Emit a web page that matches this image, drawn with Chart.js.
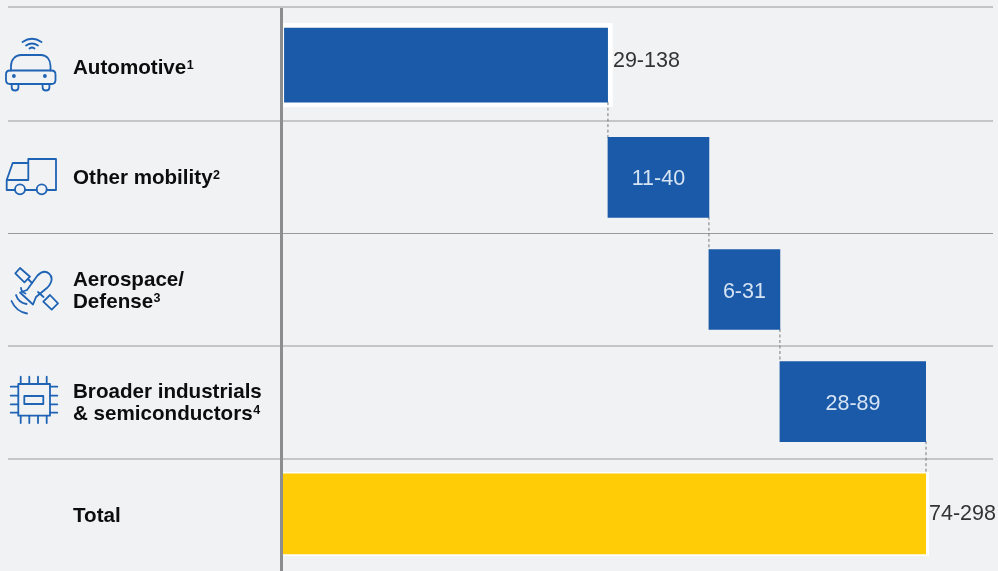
<!DOCTYPE html>
<html>
<head>
<meta charset="utf-8">
<style>html,body{margin:0;padding:0;background:#f1f2f4;overflow:hidden}canvas{display:block}</style>
<script src="https://cdn.jsdelivr.net/npm/chart.js@4"></script>
</head>
<body>
<canvas id="c" width="998" height="571"></canvas>
<script>
const categories = ['Automotive', 'Other mobility', 'Aerospace/ Defense', 'Broader industrials & semiconductors', 'Total'];
const categoryLines = [['Automotive'], ['Other mobility'], ['Aerospace/', 'Defense'], ['Broader industrials', '& semiconductors'], ['Total']];
const footnotes = ['1', '2', '3', '4', ''];
const rangeLabels = ['29-138', '11-40', '6-31', '28-89', '74-298'];
const barStarts = [0.5, 150.6, 197.4, 230.3, 0];
const barEnds = [150.6, 197.4, 230.3, 298, 298];
const colors = ['#1a5aa8', '#1a5aa8', '#1a5aa8', '#1a5aa8', '#ffcc05'];

const separators = [7, 121, 233.5, 346, 459];
const ICON = '#1f63b5';

function strokeP(ctx, d) { ctx.stroke(new Path2D(d)); }
function drawIcons(ctx) {
  ctx.save();
  ctx.strokeStyle = ICON; ctx.fillStyle = ICON; ctx.lineWidth = 1.8; ctx.lineCap = 'round'; ctx.lineJoin = 'round';
  // car
  strokeP(ctx, 'M22.5 42Q32 35.5 41.5 42M26 45.5Q32 41.5 38 45.5M29.5 48.5Q32 46.5 34.5 48.5');
  strokeP(ctx, 'M11 70.5V66C11 60 15 55 21 55H41C47 55 50.5 60 50.5 66V70.5');
  strokeP(ctx, 'M10 70.5H51.5Q55.5 70.5 55.5 74.5V80Q55.5 84 51.5 84H10Q6 84 6 80V74.5Q6 70.5 10 70.5Z');
  strokeP(ctx, 'M11.7 84V87.5Q11.7 90.5 15 90.5Q18.4 90.5 18.4 87.5V84M42.6 84V87.5Q42.6 90.5 46 90.5Q49.4 90.5 49.4 87.5V84');
  ctx.fill(new Path2D('M15.8 76a1.9 1.9 0 1 1-3.8 0a1.9 1.9 0 1 1 3.8 0ZM46.8 76a1.9 1.9 0 1 1-3.8 0a1.9 1.9 0 1 1 3.8 0Z'));
  // truck
  strokeP(ctx, 'M28.3 180V159H56V190H46.7M36.7 190H25M15 190H6.7V180L12.7 163H28.3M6.7 180H28.3');
  strokeP(ctx, 'M25 189.3a5 5 0 1 1-10 0a5 5 0 1 1 10 0ZM46.7 189.3a5 5 0 1 1-10 0a5 5 0 1 1 10 0Z');
  // satellite
  strokeP(ctx, 'M20 268L30 276.7L24.4 282.3L15.3 273.3ZM50 295L58 303.3L51.7 309.7L43.3 301.7Z');
  strokeP(ctx, 'M28 279L32 283M38 292L43.5 297');
  strokeP(ctx, 'M27 290L20 292.5L33 304.5L36 297L47.5 287.5C53.5 281 52 276 49 273.5C45.5 270.5 41 272 37.5 275.5L27 290');
  strokeP(ctx, 'M25.5 293.5A6.5 6.5 0 0 1 21 288M26.5 304A13 13 0 0 1 16 295M27 313.5A21 21 0 0 1 11.5 301');
  // chip
  strokeP(ctx, 'M18.3 384H50V415.7H18.3ZM24.3 396H43.3V404H24.3Z');
  strokeP(ctx, 'M20.7 376.7V384M29.3 376.7V384M38 376.7V384M46.7 376.7V384M20.7 415.7V423M29.3 415.7V423M38 415.7V423M46.7 415.7V423');
  strokeP(ctx, 'M10.7 386.7H18.3M10.7 395.7H18.3M10.7 404.3H18.3M10.7 412.7H18.3M50 386.7H57.3M50 395.7H57.3M50 404.3H57.3M50 412.7H57.3');
  ctx.restore();
}

const framePlugin = {
  id: 'frame',
  beforeDatasetsDraw(chart) {
    const ctx = chart.ctx;
    const bars = chart.getDatasetMeta(0).data;
    ctx.save();
    // row separators
    separators.forEach((y, i) => {
      ctx.strokeStyle = i === 0 ? '#b4b5b7' : '#999a9c';
      ctx.lineWidth = i === 0 ? 1.6 : 1.2;
      ctx.beginPath(); ctx.moveTo(8, y); ctx.lineTo(993, y); ctx.stroke();
    });
    // category axis rule
    ctx.fillStyle = '#8c8d8f';
    ctx.fillRect(280, 8, 3, 563);
    // white halos behind the first and last bars
    ctx.fillStyle = '#ffffff';
    [[0, 5, 4.8, 1], [4, 2, 3, 0]].forEach(([i, v, r, l]) => {
      const b = bars[i];
      const h = i === 0 ? 37 : 40;
      ctx.fillRect(Math.min(b.base, b.x) - l, b.y - h - v, Math.abs(b.x - b.base) + l + r, 2 * (h + v));
    });
    // dashed connectors
    ctx.strokeStyle = '#77787a'; ctx.lineWidth = 1; ctx.setLineDash([3, 2.5]);
    for (let i = 0; i < bars.length - 1; i++) {
      const halfA = i === 0 ? 37 : 39.5, halfB = i === 3 ? 40 : 39.5;
      ctx.beginPath();
      ctx.moveTo(bars[i].x, bars[i].y + halfA);
      ctx.lineTo(bars[i].x, bars[i + 1].y - halfB);
      ctx.stroke();
    }
    ctx.restore();
  },
  afterDatasetsDraw(chart) {
    const ctx = chart.ctx;
    const bars = chart.getDatasetMeta(0).data;
    ctx.save();
    ctx.textBaseline = 'alphabetic';
    bars.forEach((b, i) => {
      // category labels
      const lines = categoryLines[i];
      const lh = 22;
      let y = b.y + 7 - (lines.length - 1) * lh / 2 + (i === 0 ? 2 : i === 4 ? 1 : 0);
      ctx.fillStyle = '#0d0d0d';
      ctx.textAlign = 'left';
      lines.forEach((t, k) => {
        ctx.font = 'bold 20.6px "Liberation Sans"';
        ctx.fillText(t, 73, y + k * lh);
        if (k === lines.length - 1 && footnotes[i]) {
          const w = ctx.measureText(t).width;
          ctx.font = 'bold 12.5px "Liberation Sans"';
          ctx.fillText(footnotes[i], 73 + w + 0.5, y + k * lh - 5.5);
        }
      });
      // range labels
      ctx.font = '21.5px "Liberation Sans"';
      const outside = i === 0 || i === 4;
      if (outside) {
        ctx.fillStyle = '#333333'; ctx.textAlign = 'left';
        ctx.fillText(rangeLabels[i], b.x + (i === 0 ? 5 : 3), b.y + 7.5 + (i === 0 ? -6 : -1.5));
      } else {
        ctx.fillStyle = '#d5e3f3'; ctx.textAlign = 'center';
        ctx.fillText(rangeLabels[i], (b.x + b.base) / 2, b.y + 8);
      }
    });
    drawIcons(ctx);
    ctx.restore();
  }
};

new Chart(document.getElementById('c'), {
  type: 'bar',
  data: {
    labels: categories,
    datasets: [{
      data: barStarts.map((s, i) => [s, barEnds[i]]),
      backgroundColor: colors,
      borderColor: 'rgba(0,0,0,0)',
      borderWidth: ctx => ctx.dataIndex === 0 ? { top: 3, bottom: 3, left: 0, right: 0 } : 0,
      borderSkipped: false,
      barThickness: 80,
      borderRadius: 0
    }]
  },
  options: {
    indexAxis: 'y',
    responsive: false,
    animation: false,
    devicePixelRatio: 1,
    layout: { padding: { left: 283, right: 72, top: 9, bottom: 1 } },
    plugins: { legend: { display: false }, tooltip: { enabled: false }, title: { display: false } },
    scales: {
      x: { display: false, min: 0, max: 298 },
      y: { display: false }
    }
  },
  plugins: [framePlugin]
});
</script>
</body>
</html>
